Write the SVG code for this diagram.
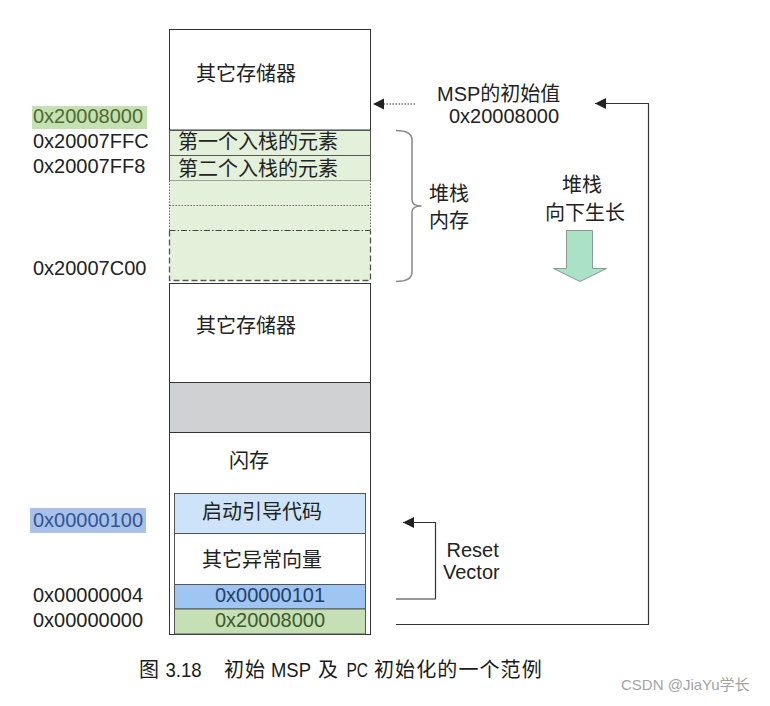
<svg xmlns="http://www.w3.org/2000/svg" width="770" height="706" viewBox="0 0 770 706">
<style>
.t{font-family:"Liberation Sans","Noto Sans CJK SC",sans-serif;font-size:20px;fill:#222}
.c{font-family:"Noto Sans CJK SC",sans-serif;font-size:20px;fill:#222}
.box{stroke:#333;stroke-width:1;fill:#fff}
.stk{fill:#e3f0da;stroke:#555;stroke-width:1}
.ln{fill:none;stroke:#333;stroke-width:1.2}
.lat{font-family:"Liberation Sans",sans-serif;font-size:20.5px}
</style>
<defs>
<marker id="ah" markerUnits="userSpaceOnUse" markerWidth="12" markerHeight="12" refX="11" refY="5.5" orient="auto">
<path d="M0,0 L11,5.5 L0,11 Z" fill="#222"/>
</marker>
</defs>
<rect width="770" height="706" fill="#fff"/>

<g id="addr-labels">
<rect x="32" y="106" width="115" height="23" fill="#c5e0b3"/>
<text class="t" x="33" y="122.5" style="fill:#4f6b2e">0x20008000</text>
<text class="t" x="33" y="148">0x20007FFC</text>
<text class="t" x="33" y="173">0x20007FF8</text>
<text class="t" x="33" y="275">0x20007C00</text>
<rect x="30" y="508" width="116" height="25" fill="#a9c1e8"/>
<text class="t" x="33" y="527" style="fill:#2f5597">0x00000100</text>
<text class="t" x="33" y="602">0x00000004</text>
<text class="t" x="33" y="627">0x00000000</text>
</g>

<g id="mem-top">
<rect class="box" x="169.5" y="29.5" width="201" height="100.5"/>
<text class="c" x="196" y="80.5">其它存储器</text>
</g>
<g id="stack-1">
<rect class="stk" x="169.5" y="130.5" width="201" height="25"/>
<text class="c" x="178" y="149">第一个入栈的元素</text>
</g>
<g id="stack-2">
<rect class="stk" x="169.5" y="155.5" width="201" height="25"/>
<text class="c" x="178" y="175.5">第二个入栈的元素</text>
</g>
<g id="stack-free">
<rect x="169.5" y="180.5" width="201" height="100" fill="#e3f0da"/>
<path d="M169.5,205.5 H370.5" stroke="#666" stroke-width="1" stroke-dasharray="1.5,1.5" fill="none"/>
<path d="M169.5,180.5 V230.5 M370.5,180.5 V230.5" stroke="#666" stroke-width="1" stroke-dasharray="1.5,1.5" fill="none"/>
<path d="M169.5,230.5 H370.5" stroke="#444" stroke-width="1.2" stroke-dasharray="6,2,1.5,2" fill="none"/>
<path d="M169.5,230.5 V280.5 H370.5 V230.5" stroke="#555" stroke-width="1.3" stroke-dasharray="6,3" fill="none"/>
</g>
<g id="mem-other">
<rect class="box" x="169.5" y="283.5" width="201" height="99"/>
<text class="c" x="196" y="332.5">其它存储器</text>
</g>
<g id="mem-gap">
<rect x="169.5" y="382.5" width="201" height="50" fill="#d0d1d3" stroke="#333" stroke-width="1"/>
</g>
<g id="flash">
<rect class="box" x="169.5" y="432.5" width="201" height="202"/>
<text class="c" x="229" y="468">闪存</text>
</g>
<g id="boot-code">
<rect x="174.5" y="493.5" width="191" height="40" fill="#cde3f9" stroke="#555" stroke-width="1"/>
<text class="c" x="202" y="519">启动引导代码</text>
</g>
<g id="other-vectors">
<rect x="174.5" y="533.5" width="191" height="51" fill="#fff" stroke="#555" stroke-width="1"/>
<text class="c" x="202" y="567">其它异常向量</text>
</g>
<g id="reset-entry">
<rect x="174.5" y="584.5" width="191" height="24.5" fill="#9fc5f2" stroke="#555" stroke-width="1"/>
<text class="t" x="215" y="602" style="fill:#23406b">0x00000101</text>
</g>
<g id="msp-entry">
<rect x="174.5" y="609" width="191" height="25" fill="#c5e0b4" stroke="#555" stroke-width="1"/>
<text class="t" x="215" y="627" style="fill:#3f5a2c">0x20008000</text>
</g>

<g id="msp-label">
<text class="t" x="437" y="100.5">MSP的初始值</text>
<text class="t" x="449" y="122.5">0x20008000</text>
</g>
<g id="stack-brace">
<path d="M396,130.5 Q412,130.5 412,140 V200 Q412,206 421.5,206 Q412,206 412,212 V272 Q412,281.5 396,281.5" fill="none" stroke="#888" stroke-width="1.5"/>
<text class="c" x="429" y="200.5">堆栈</text>
<text class="c" x="429" y="228">内存</text>
</g>
<g id="grow-down">
<text class="c" x="562" y="192">堆栈</text>
<text class="c" x="545" y="219.5">向下生长</text>
<path d="M566.5,230.5 H592.5 V268.5 H606.5 L580,281.5 L553.5,268.5 H566.5 Z" fill="#a9e2c6" stroke="#8a9a92" stroke-width="1"/>
</g>
<g id="reset-label">
<text class="t" x="446.5" y="557">Reset</text>
<text class="t" x="443" y="579">Vector</text>
</g>

<g id="connectors">
<path d="M415,104 H373" fill="none" stroke="#333" stroke-width="1.2" stroke-dasharray="1.5,1.5" marker-end="url(#ah)"/>
<path class="ln" d="M396,624.5 H648.5 V103.5 H595" marker-end="url(#ah)"/>
<path class="ln" d="M396,599 H435.5 V522.5 H403" marker-end="url(#ah)"/>
</g>

<g id="caption">
<text class="c" y="677" style="fill:#1a1a1a"><tspan x="139">图</tspan><tspan class="lat" x="165.5" textLength="36" lengthAdjust="spacingAndGlyphs">3.18</tspan><tspan x="224" letter-spacing="1">初始</tspan><tspan class="lat" x="271" textLength="40" lengthAdjust="spacingAndGlyphs">MSP</tspan><tspan x="318">及</tspan><tspan class="lat" x="346.5" textLength="21.5" lengthAdjust="spacingAndGlyphs">PC</tspan><tspan x="374" letter-spacing="1.1">初始化的一个范例</tspan></text>
</g>
<g id="watermark">
<text x="621" y="690" style="font-family:'Liberation Sans','Noto Sans CJK SC',sans-serif;font-size:15px;fill:#a3a3a3">CSDN @JiaYu学长</text>
</g>
</svg>
